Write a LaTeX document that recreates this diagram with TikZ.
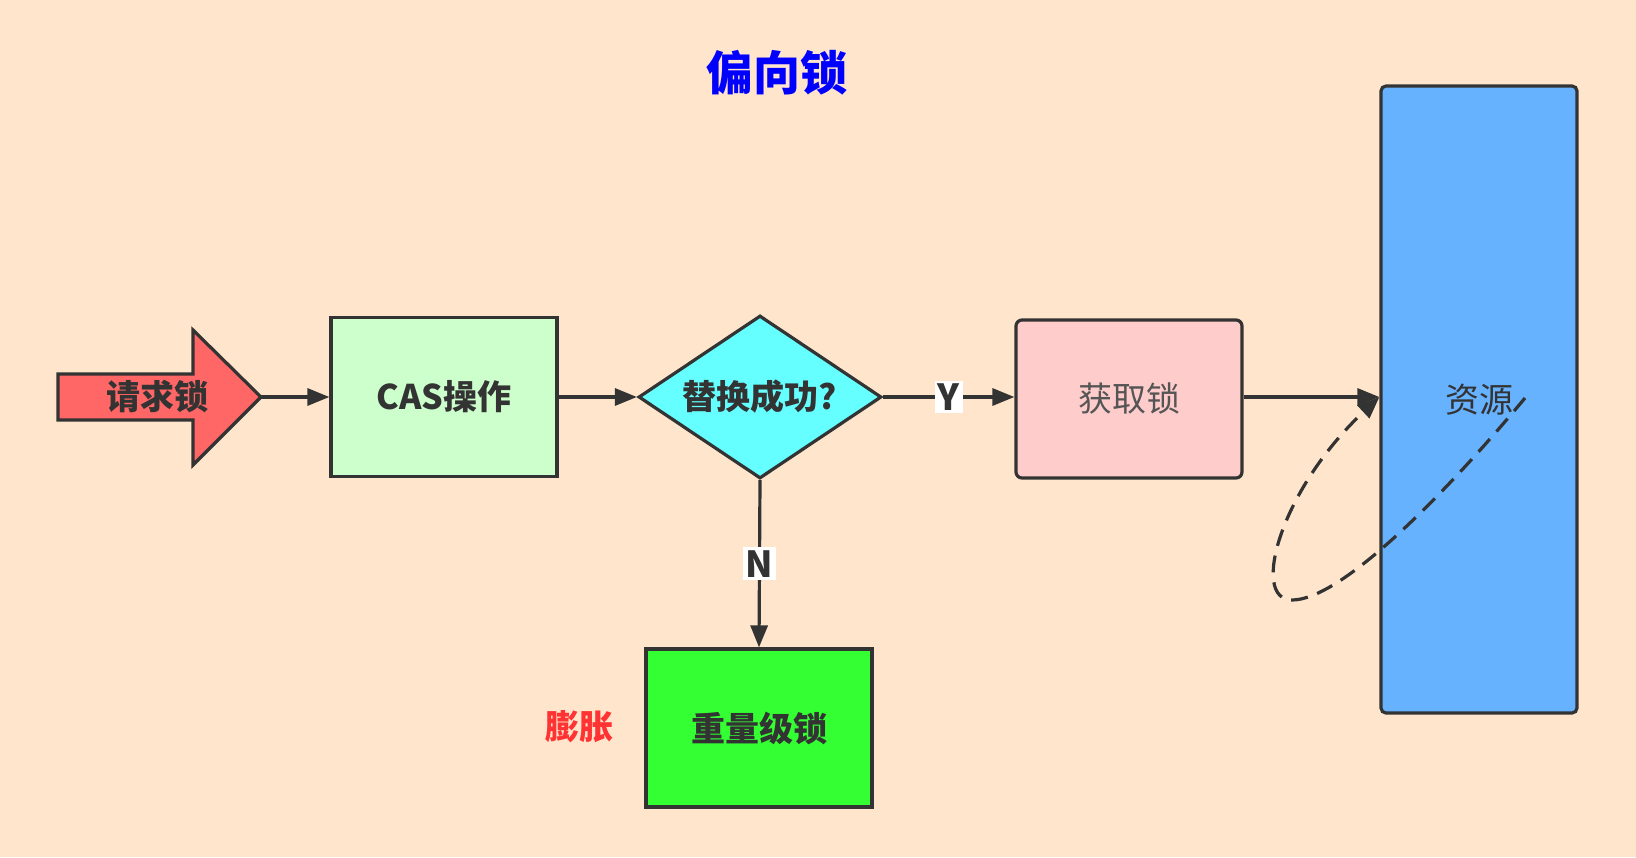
\documentclass[tikz,border=0pt]{standalone}
\usepackage{fontspec}
\setmainfont{Noto Sans CJK SC}
\usetikzlibrary{shapes.geometric,arrows.meta}
\definecolor{bgc}{RGB}{255,229,204}
\definecolor{linec}{RGB}{51,51,51}
\definecolor{txtc}{RGB}{51,51,51}
\definecolor{arrowc}{RGB}{255,102,102}
\definecolor{casc}{RGB}{204,255,204}
\definecolor{diac}{RGB}{102,255,255}
\definecolor{getc}{RGB}{255,204,204}
\definecolor{resc}{RGB}{102,178,255}
\definecolor{heavyc}{RGB}{51,255,51}
\definecolor{pzc}{RGB}{255,51,51}
\begin{document}
\begin{tikzpicture}[x=1pt,y=-1pt,
  boxst/.style={draw=linec, line width=3.2pt, inner sep=0pt, text=txtc,
    font=\fontsize{34pt}{40pt}\selectfont\bfseries},
  conn/.style={draw=linec, line width=3.2pt, -{Triangle[length=22pt,width=17pt]}},
  lbl/.style={fill=white, inner sep=3pt, text=txtc,
    font=\fontsize{36pt}{40pt}\selectfont\bfseries}]
\fill[bgc] (0,0) rectangle (1636,857);
\useasboundingbox (0,0) rectangle (1636,857);
% title
\node[text=blue, font=\fontsize{47pt}{50pt}\selectfont\bfseries] (title) at (777,73) {偏向锁};
% request arrow
\draw[draw=linec, line width=3.2pt, fill=arrowc, line join=miter]
  (58,374) -- (193,374) -- (193,330) -- (261,397) -- (193,465) -- (193,420) -- (58,420) -- cycle;
\coordinate (reqtip) at (261,397);
\node[text=txtc, font=\fontsize{34pt}{40pt}\selectfont\bfseries] (req) at (157,397) {请求锁};
% nodes
\node[boxst, fill=casc, minimum width=226pt, minimum height=159pt] (cas) at (444,397) {CAS操作};
\node[boxst, diamond, aspect=1.5, fill=diac, minimum width=243pt, minimum height=163pt] (dia) at (760,397) {替换成功?};
\node[boxst, rounded corners=6pt, fill=getc, minimum width=226pt, minimum height=158pt,
  font=\fontsize{34pt}{40pt}\selectfont, text={rgb,255:red,85;green,85;blue,85}] (get) at (1129,399) {获取锁};
\node[boxst, rounded corners=5pt, fill=resc, minimum width=196pt, minimum height=627pt,
  font=\fontsize{34pt}{40pt}\selectfont] (res) at (1479,399.5) {资源};
\node[boxst, fill=heavyc, minimum width=226pt, minimum height=158pt] (heavy) at (759,728) {重量级锁};
\node[text=pzc, font=\fontsize{34pt}{40pt}\selectfont\bfseries] (pz) at (579,727) {膨胀};
% connectors
\draw[conn] (reqtip) -- (cas.west);
\draw[conn] (cas.east) -- (dia.west);
\draw[conn] (dia.east) -- node[lbl] (ylab) {Y} (get.west |- dia.east);
\draw[conn] (dia.south) -- node[lbl] (nlab) {N} (heavy.north);
\draw[conn] (get.east |- dia.east) -- (res.west |- dia.east);
\coordinate (dstart) at (1525,398);
\draw[conn, dash pattern=on 17pt off 10pt]
  (dstart) .. controls (1440,500) and (1340,600) .. (1292,600)
  .. controls (1250,600) and (1280,490) .. (res.west |- dia.east);
\end{tikzpicture}
\end{document}
